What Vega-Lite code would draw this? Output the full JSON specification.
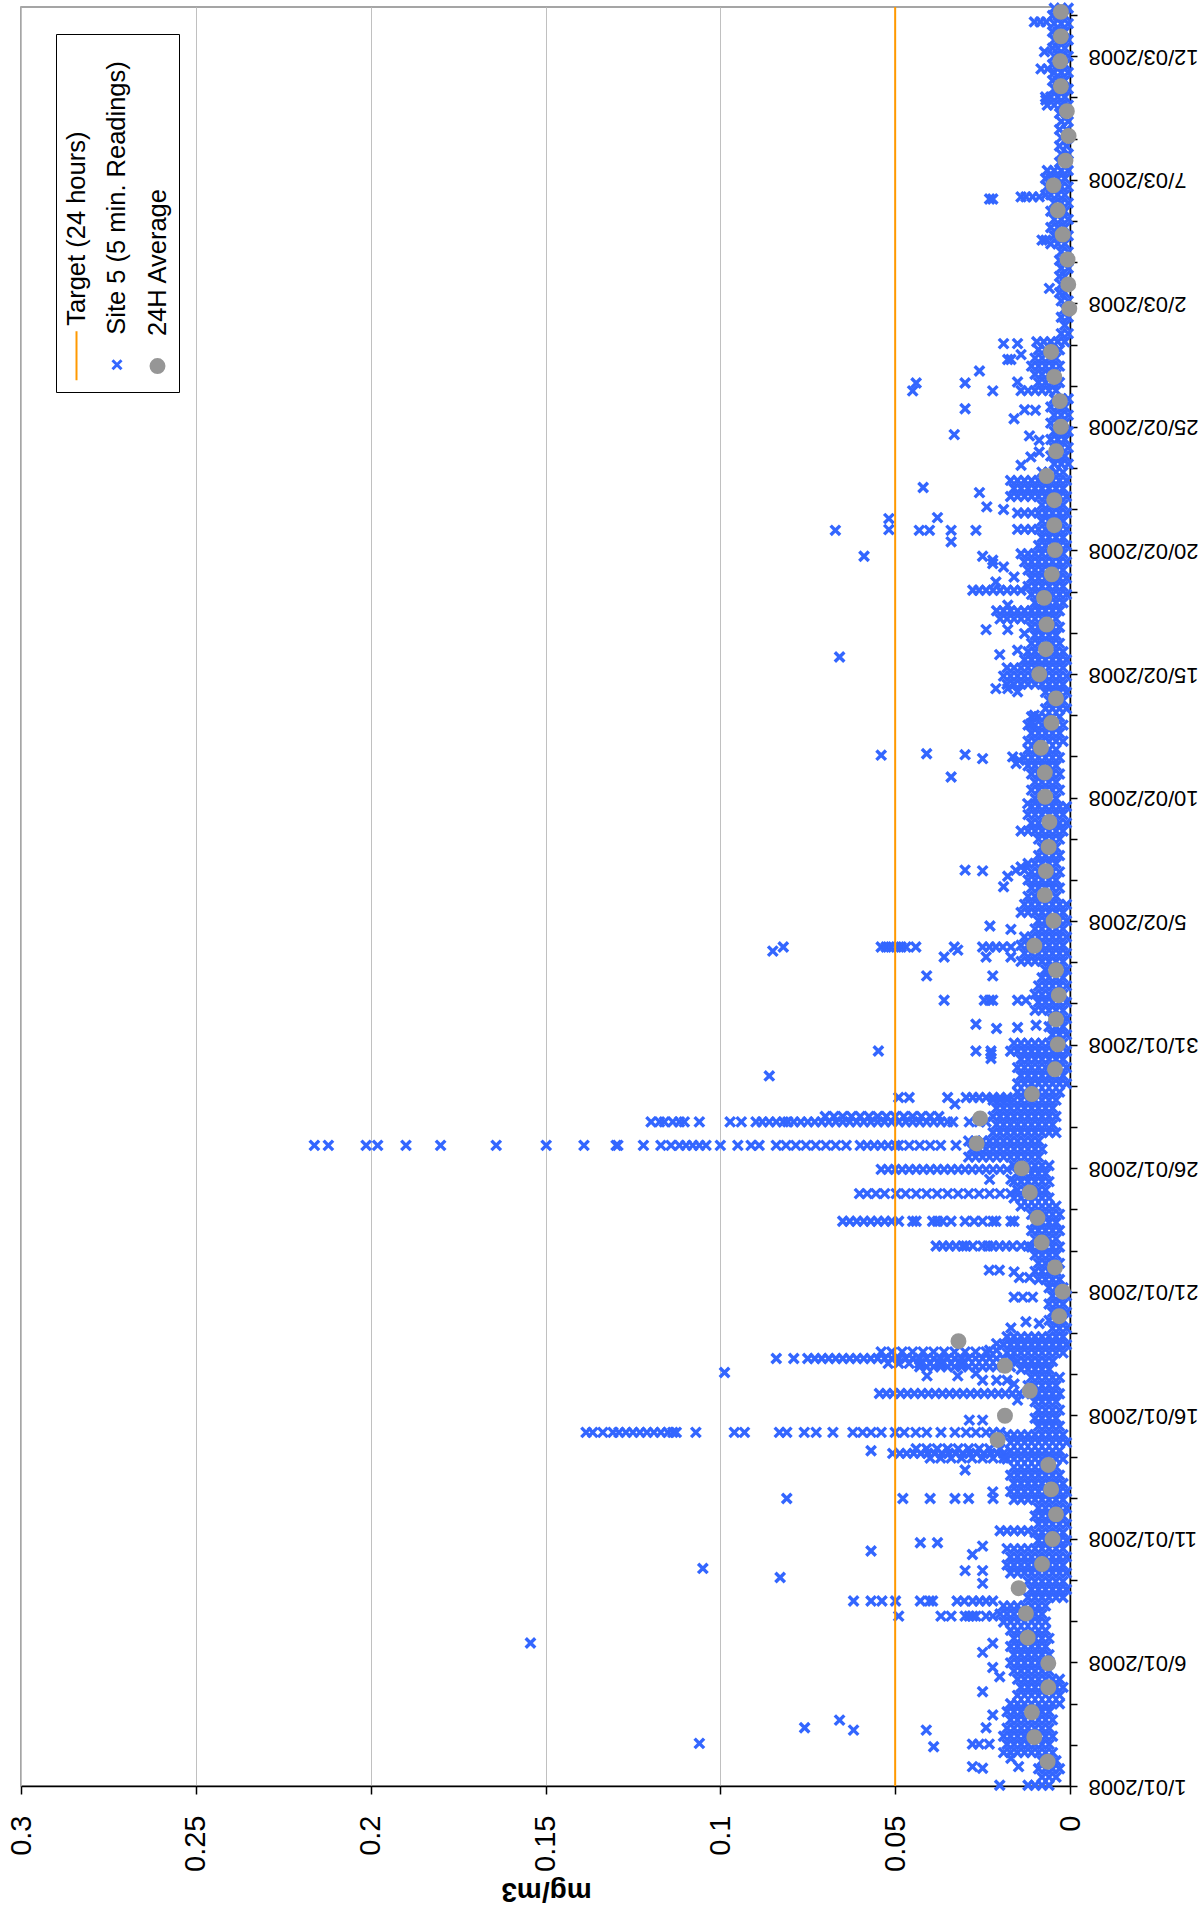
{
"$schema":"https://vega.github.io/schema/vega-lite/v6.json",
"width":1049,"height":1779,
"autosize":{"type":"none"},
"padding":{"left":21,"top":7,"right":133,"bottom":126},
"background":"white",
"config":{"font":"Liberation Sans","view":{"stroke":"#888888","strokeWidth":1.5}},
"datasets":{
"daily":[
{"day":1.41,"mg":0.0064},{"day":2.41,"mg":0.0102},{"day":3.43,"mg":0.0109},{"day":4.45,"mg":0.0062},{"day":5.43,"mg":0.0062},{"day":6.48,"mg":0.0121},{"day":7.47,"mg":0.0126},{"day":8.5,"mg":0.0147},{"day":9.49,"mg":0.008},{"day":10.51,"mg":0.005},{"day":11.52,"mg":0.004},{"day":12.54,"mg":0.0054},{"day":13.54,"mg":0.0062},{"day":14.56,"mg":0.0207},{"day":15.55,"mg":0.0186},{"day":16.57,"mg":0.0115},{"day":17.59,"mg":0.0186},{"day":18.6,"mg":0.0319},{"day":19.62,"mg":0.0031},{"day":20.62,"mg":0.0021},{"day":21.61,"mg":0.0043},{"day":22.63,"mg":0.0081},{"day":23.64,"mg":0.0093},{"day":24.68,"mg":0.0115},{"day":25.66,"mg":0.0138},{"day":26.68,"mg":0.0267},{"day":27.7,"mg":0.0257},{"day":28.7,"mg":0.0109},{"day":29.71,"mg":0.0043},{"day":30.73,"mg":0.0035},{"day":31.75,"mg":0.004},{"day":32.74,"mg":0.0032},{"day":33.76,"mg":0.004},{"day":34.76,"mg":0.0102},{"day":35.78,"mg":0.0047},{"day":36.83,"mg":0.0072},{"day":37.81,"mg":0.0069},{"day":38.8,"mg":0.0061},{"day":39.82,"mg":0.0059},{"day":40.85,"mg":0.0071},{"day":41.84,"mg":0.0072},{"day":42.85,"mg":0.0083},{"day":43.87,"mg":0.0053},{"day":44.87,"mg":0.004},{"day":45.86,"mg":0.0088},{"day":46.88,"mg":0.0069},{"day":47.89,"mg":0.0067},{"day":48.98,"mg":0.0074},{"day":49.94,"mg":0.0052},{"day":50.93,"mg":0.0043},{"day":51.95,"mg":0.0045},{"day":52.97,"mg":0.0045},{"day":53.96,"mg":0.0067},{"day":54.97,"mg":0.004},{"day":55.97,"mg":0.0026},{"day":57.02,"mg":0.0029},{"day":58.01,"mg":0.0045},{"day":59.03,"mg":0.0054},{"day":60.8,"mg":0.0002},{"day":61.79,"mg":0.0005},{"day":62.81,"mg":0.0007},{"day":63.83,"mg":0.0021},{"day":64.82,"mg":0.0035},{"day":65.84,"mg":0.0047},{"day":66.85,"mg":0.0013},{"day":67.86,"mg":0.0004},{"day":68.87,"mg":0.0009},{"day":69.89,"mg":0.0026},{"day":70.91,"mg":0.0028},{"day":71.93,"mg":0.0026},{"day":72.93,"mg":0.0026}
],
"readings":[
{"day":0.45,"mg":0.006},{"day":0.45,"mg":0.008},{"day":0.45,"mg":0.01},{"day":0.45,"mg":0.012},
{"day":0.78,"mg":0.004},{"day":0.78,"mg":0.006},{"day":0.78,"mg":0.008},
{"day":1.12,"mg":0.003},{"day":1.12,"mg":0.005},{"day":1.12,"mg":0.007},{"day":1.12,"mg":0.009},
{"day":1.45,"mg":0.004},{"day":1.45,"mg":0.006},{"day":1.45,"mg":0.008},
{"day":1.78,"mg":0.005},{"day":1.78,"mg":0.007},{"day":1.78,"mg":0.009},{"day":1.78,"mg":0.011},{"day":1.78,"mg":0.013},{"day":1.78,"mg":0.015},{"day":1.78,"mg":0.017},{"day":1.78,"mg":0.019},
{"day":2.12,"mg":0.006},{"day":2.12,"mg":0.008},{"day":2.12,"mg":0.01},{"day":2.12,"mg":0.012},{"day":2.12,"mg":0.014},{"day":2.12,"mg":0.016},{"day":2.12,"mg":0.018},
{"day":2.45,"mg":0.005},{"day":2.45,"mg":0.007},{"day":2.45,"mg":0.009},{"day":2.45,"mg":0.011},{"day":2.45,"mg":0.013},{"day":2.45,"mg":0.015},{"day":2.45,"mg":0.017},{"day":2.45,"mg":0.019},
{"day":2.78,"mg":0.006},{"day":2.78,"mg":0.008},{"day":2.78,"mg":0.01},{"day":2.78,"mg":0.012},{"day":2.78,"mg":0.014},{"day":2.78,"mg":0.016},{"day":2.78,"mg":0.018},
{"day":3.12,"mg":0.005},{"day":3.12,"mg":0.007},{"day":3.12,"mg":0.009},{"day":3.12,"mg":0.011},{"day":3.12,"mg":0.013},{"day":3.12,"mg":0.015},{"day":3.12,"mg":0.017},
{"day":3.45,"mg":0.006},{"day":3.45,"mg":0.008},{"day":3.45,"mg":0.01},{"day":3.45,"mg":0.012},{"day":3.45,"mg":0.014},{"day":3.45,"mg":0.016},{"day":3.45,"mg":0.018},
{"day":3.78,"mg":0.003},{"day":3.78,"mg":0.005},{"day":3.78,"mg":0.007},{"day":3.78,"mg":0.009},{"day":3.78,"mg":0.011},{"day":3.78,"mg":0.013},{"day":3.78,"mg":0.015},{"day":3.78,"mg":0.017},
{"day":4.12,"mg":0.003},{"day":4.12,"mg":0.005},{"day":4.12,"mg":0.007},{"day":4.12,"mg":0.009},{"day":4.12,"mg":0.011},{"day":4.12,"mg":0.013},{"day":4.12,"mg":0.015},
{"day":4.45,"mg":0.002},{"day":4.45,"mg":0.004},{"day":4.45,"mg":0.006},{"day":4.45,"mg":0.008},{"day":4.45,"mg":0.01},{"day":4.45,"mg":0.012},{"day":4.45,"mg":0.014},
{"day":4.78,"mg":0.003},{"day":4.78,"mg":0.005},{"day":4.78,"mg":0.007},{"day":4.78,"mg":0.009},{"day":4.78,"mg":0.011},{"day":4.78,"mg":0.013},{"day":4.78,"mg":0.015},
{"day":5.12,"mg":0.006},{"day":5.12,"mg":0.008},{"day":5.12,"mg":0.01},{"day":5.12,"mg":0.012},{"day":5.12,"mg":0.014},{"day":5.12,"mg":0.016},
{"day":5.45,"mg":0.007},{"day":5.45,"mg":0.009},{"day":5.45,"mg":0.011},{"day":5.45,"mg":0.013},{"day":5.45,"mg":0.015},{"day":5.45,"mg":0.017},
{"day":5.78,"mg":0.006},{"day":5.78,"mg":0.008},{"day":5.78,"mg":0.01},{"day":5.78,"mg":0.012},{"day":5.78,"mg":0.014},{"day":5.78,"mg":0.016},
{"day":6.12,"mg":0.007},{"day":6.12,"mg":0.009},{"day":6.12,"mg":0.011},{"day":6.12,"mg":0.013},{"day":6.12,"mg":0.015},{"day":6.12,"mg":0.017},
{"day":6.45,"mg":0.006},{"day":6.45,"mg":0.008},{"day":6.45,"mg":0.01},{"day":6.45,"mg":0.012},{"day":6.45,"mg":0.014},{"day":6.45,"mg":0.016},
{"day":6.78,"mg":0.007},{"day":6.78,"mg":0.009},{"day":6.78,"mg":0.011},{"day":6.78,"mg":0.013},{"day":6.78,"mg":0.015},{"day":6.78,"mg":0.017},
{"day":7.12,"mg":0.007},{"day":7.12,"mg":0.009},{"day":7.12,"mg":0.011},{"day":7.12,"mg":0.013},{"day":7.12,"mg":0.015},{"day":7.12,"mg":0.017},{"day":7.12,"mg":0.019},
{"day":7.45,"mg":0.008},{"day":7.45,"mg":0.01},{"day":7.45,"mg":0.012},{"day":7.45,"mg":0.014},{"day":7.45,"mg":0.016},{"day":7.45,"mg":0.018},{"day":7.45,"mg":0.02},
{"day":7.78,"mg":0.007},{"day":7.78,"mg":0.009},{"day":7.78,"mg":0.011},{"day":7.78,"mg":0.013},{"day":7.78,"mg":0.015},{"day":7.78,"mg":0.017},{"day":7.78,"mg":0.019},
{"day":8.12,"mg":0.002},{"day":8.12,"mg":0.004},{"day":8.12,"mg":0.006},{"day":8.12,"mg":0.008},{"day":8.12,"mg":0.01},{"day":8.12,"mg":0.012},
{"day":8.45,"mg":0.001},{"day":8.45,"mg":0.003},{"day":8.45,"mg":0.005},{"day":8.45,"mg":0.007},{"day":8.45,"mg":0.009},{"day":8.45,"mg":0.011},
{"day":8.78,"mg":0.002},{"day":8.78,"mg":0.004},{"day":8.78,"mg":0.006},{"day":8.78,"mg":0.008},{"day":8.78,"mg":0.01},{"day":8.78,"mg":0.012},
{"day":9.12,"mg":0.001},{"day":9.12,"mg":0.003},{"day":9.12,"mg":0.005},{"day":9.12,"mg":0.007},{"day":9.12,"mg":0.009},{"day":9.12,"mg":0.011},{"day":9.12,"mg":0.013},{"day":9.12,"mg":0.015},{"day":9.12,"mg":0.017},
{"day":9.45,"mg":0.002},{"day":9.45,"mg":0.004},{"day":9.45,"mg":0.006},{"day":9.45,"mg":0.008},{"day":9.45,"mg":0.01},{"day":9.45,"mg":0.012},{"day":9.45,"mg":0.014},{"day":9.45,"mg":0.016},{"day":9.45,"mg":0.018},
{"day":9.78,"mg":0.001},{"day":9.78,"mg":0.003},{"day":9.78,"mg":0.005},{"day":9.78,"mg":0.007},{"day":9.78,"mg":0.009},{"day":9.78,"mg":0.011},{"day":9.78,"mg":0.013},{"day":9.78,"mg":0.015},{"day":9.78,"mg":0.017},
{"day":10.12,"mg":0.002},{"day":10.12,"mg":0.004},{"day":10.12,"mg":0.006},{"day":10.12,"mg":0.008},{"day":10.12,"mg":0.01},{"day":10.12,"mg":0.012},{"day":10.12,"mg":0.014},{"day":10.12,"mg":0.016},{"day":10.12,"mg":0.018},
{"day":10.45,"mg":0.001},{"day":10.45,"mg":0.003},{"day":10.45,"mg":0.005},{"day":10.45,"mg":0.007},{"day":10.45,"mg":0.009},
{"day":10.78,"mg":0.002},{"day":10.78,"mg":0.004},{"day":10.78,"mg":0.006},{"day":10.78,"mg":0.008},{"day":10.78,"mg":0.01},
{"day":11.12,"mg":0.001},{"day":11.12,"mg":0.003},{"day":11.12,"mg":0.005},{"day":11.12,"mg":0.007},{"day":11.12,"mg":0.009},
{"day":11.45,"mg":0.002},{"day":11.45,"mg":0.004},{"day":11.45,"mg":0.006},{"day":11.45,"mg":0.008},{"day":11.45,"mg":0.01},
{"day":11.78,"mg":0.001},{"day":11.78,"mg":0.003},{"day":11.78,"mg":0.005},{"day":11.78,"mg":0.007},{"day":11.78,"mg":0.009},
{"day":12.12,"mg":0.002},{"day":12.12,"mg":0.004},{"day":12.12,"mg":0.006},{"day":12.12,"mg":0.008},{"day":12.12,"mg":0.01},{"day":12.12,"mg":0.012},{"day":12.12,"mg":0.014},{"day":12.12,"mg":0.016},
{"day":12.45,"mg":0.001},{"day":12.45,"mg":0.003},{"day":12.45,"mg":0.005},{"day":12.45,"mg":0.007},{"day":12.45,"mg":0.009},{"day":12.45,"mg":0.011},{"day":12.45,"mg":0.013},{"day":12.45,"mg":0.015},{"day":12.45,"mg":0.017},
{"day":12.78,"mg":0.002},{"day":12.78,"mg":0.004},{"day":12.78,"mg":0.006},{"day":12.78,"mg":0.008},{"day":12.78,"mg":0.01},{"day":12.78,"mg":0.012},{"day":12.78,"mg":0.014},{"day":12.78,"mg":0.016},
{"day":13.12,"mg":0.003},{"day":13.12,"mg":0.005},{"day":13.12,"mg":0.007},{"day":13.12,"mg":0.009},{"day":13.12,"mg":0.011},{"day":13.12,"mg":0.013},{"day":13.12,"mg":0.015},{"day":13.12,"mg":0.017},
{"day":13.45,"mg":0.004},{"day":13.45,"mg":0.006},{"day":13.45,"mg":0.008},{"day":13.45,"mg":0.01},{"day":13.45,"mg":0.012},{"day":13.45,"mg":0.014},{"day":13.45,"mg":0.016},
{"day":13.78,"mg":0.002},{"day":13.78,"mg":0.004},{"day":13.78,"mg":0.006},{"day":13.78,"mg":0.008},{"day":13.78,"mg":0.01},{"day":13.78,"mg":0.012},{"day":13.78,"mg":0.014},{"day":13.78,"mg":0.016},{"day":13.78,"mg":0.018},
{"day":14.12,"mg":0.003},{"day":14.12,"mg":0.005},{"day":14.12,"mg":0.007},{"day":14.12,"mg":0.009},{"day":14.12,"mg":0.011},{"day":14.12,"mg":0.013},{"day":14.12,"mg":0.015},{"day":14.12,"mg":0.017},
{"day":14.45,"mg":0.001},{"day":14.45,"mg":0.003},{"day":14.45,"mg":0.005},{"day":14.45,"mg":0.007},{"day":14.45,"mg":0.009},{"day":14.45,"mg":0.011},{"day":14.45,"mg":0.013},{"day":14.45,"mg":0.015},{"day":14.45,"mg":0.017},
{"day":14.78,"mg":0.002},{"day":14.78,"mg":0.004},{"day":14.78,"mg":0.006},{"day":14.78,"mg":0.008},{"day":14.78,"mg":0.01},{"day":14.78,"mg":0.012},{"day":14.78,"mg":0.014},{"day":14.78,"mg":0.016},{"day":14.78,"mg":0.018},
{"day":15.12,"mg":0.003},{"day":15.12,"mg":0.005},{"day":15.12,"mg":0.007},{"day":15.12,"mg":0.009},
{"day":15.45,"mg":0.004},{"day":15.45,"mg":0.006},{"day":15.45,"mg":0.008},{"day":15.45,"mg":0.01},
{"day":15.78,"mg":0.003},{"day":15.78,"mg":0.005},{"day":15.78,"mg":0.007},{"day":15.78,"mg":0.009},
{"day":16.12,"mg":0.004},{"day":16.12,"mg":0.006},{"day":16.12,"mg":0.008},{"day":16.12,"mg":0.01},
{"day":16.45,"mg":0.003},{"day":16.45,"mg":0.005},{"day":16.45,"mg":0.007},{"day":16.45,"mg":0.009},{"day":16.45,"mg":0.011},
{"day":16.78,"mg":0.004},{"day":16.78,"mg":0.006},{"day":16.78,"mg":0.008},{"day":16.78,"mg":0.01},{"day":16.78,"mg":0.012},
{"day":17.12,"mg":0.003},{"day":17.12,"mg":0.005},{"day":17.12,"mg":0.007},{"day":17.12,"mg":0.009},{"day":17.12,"mg":0.011},
{"day":17.45,"mg":0.006},{"day":17.45,"mg":0.008},{"day":17.45,"mg":0.01},{"day":17.45,"mg":0.012},{"day":17.45,"mg":0.014},
{"day":17.78,"mg":0.005},{"day":17.78,"mg":0.007},{"day":17.78,"mg":0.009},{"day":17.78,"mg":0.011},{"day":17.78,"mg":0.013},{"day":17.78,"mg":0.015},
{"day":18.12,"mg":0.002},{"day":18.12,"mg":0.004},{"day":18.12,"mg":0.006},{"day":18.12,"mg":0.008},{"day":18.12,"mg":0.01},{"day":18.12,"mg":0.012},{"day":18.12,"mg":0.014},{"day":18.12,"mg":0.016},{"day":18.12,"mg":0.018},
{"day":18.45,"mg":0.001},{"day":18.45,"mg":0.003},{"day":18.45,"mg":0.005},{"day":18.45,"mg":0.007},{"day":18.45,"mg":0.009},{"day":18.45,"mg":0.011},{"day":18.45,"mg":0.013},{"day":18.45,"mg":0.015},{"day":18.45,"mg":0.017},{"day":18.45,"mg":0.019},
{"day":18.78,"mg":0.002},{"day":18.78,"mg":0.004},{"day":18.78,"mg":0.006},{"day":18.78,"mg":0.008},{"day":18.78,"mg":0.01},{"day":18.78,"mg":0.012},{"day":18.78,"mg":0.014},{"day":18.78,"mg":0.016},{"day":18.78,"mg":0.018},
{"day":19.12,"mg":0.001},{"day":19.12,"mg":0.003},{"day":19.12,"mg":0.005},
{"day":19.45,"mg":0.002},{"day":19.45,"mg":0.004},{"day":19.45,"mg":0.006},
{"day":19.78,"mg":0.001},{"day":19.78,"mg":0.003},{"day":19.78,"mg":0.005},
{"day":20.12,"mg":0.002},{"day":20.12,"mg":0.004},{"day":20.12,"mg":0.006},
{"day":20.45,"mg":0.001},{"day":20.45,"mg":0.003},{"day":20.45,"mg":0.005},
{"day":20.78,"mg":0.002},{"day":20.78,"mg":0.004},{"day":20.78,"mg":0.006},
{"day":21.12,"mg":0.003},{"day":21.12,"mg":0.005},{"day":21.12,"mg":0.007},{"day":21.12,"mg":0.009},
{"day":21.45,"mg":0.004},{"day":21.45,"mg":0.006},{"day":21.45,"mg":0.008},{"day":21.45,"mg":0.01},
{"day":21.78,"mg":0.003},{"day":21.78,"mg":0.005},{"day":21.78,"mg":0.007},{"day":21.78,"mg":0.009},
{"day":22.12,"mg":0.004},{"day":22.12,"mg":0.006},{"day":22.12,"mg":0.008},{"day":22.12,"mg":0.01},
{"day":22.45,"mg":0.003},{"day":22.45,"mg":0.005},{"day":22.45,"mg":0.007},{"day":22.45,"mg":0.009},{"day":22.45,"mg":0.011},
{"day":22.78,"mg":0.004},{"day":22.78,"mg":0.006},{"day":22.78,"mg":0.008},{"day":22.78,"mg":0.01},
{"day":23.12,"mg":0.003},{"day":23.12,"mg":0.005},{"day":23.12,"mg":0.007},{"day":23.12,"mg":0.009},{"day":23.12,"mg":0.011},
{"day":23.45,"mg":0.004},{"day":23.45,"mg":0.006},{"day":23.45,"mg":0.008},{"day":23.45,"mg":0.01},
{"day":23.78,"mg":0.003},{"day":23.78,"mg":0.005},{"day":23.78,"mg":0.007},{"day":23.78,"mg":0.009},{"day":23.78,"mg":0.011},
{"day":24.12,"mg":0.004},{"day":24.12,"mg":0.006},{"day":24.12,"mg":0.008},{"day":24.12,"mg":0.01},{"day":24.12,"mg":0.012},{"day":24.12,"mg":0.014},
{"day":24.45,"mg":0.006},{"day":24.45,"mg":0.008},{"day":24.45,"mg":0.01},{"day":24.45,"mg":0.012},{"day":24.45,"mg":0.014},{"day":24.45,"mg":0.016},
{"day":24.78,"mg":0.007},{"day":24.78,"mg":0.009},{"day":24.78,"mg":0.011},{"day":24.78,"mg":0.013},{"day":24.78,"mg":0.015},
{"day":25.12,"mg":0.006},{"day":25.12,"mg":0.008},{"day":25.12,"mg":0.01},{"day":25.12,"mg":0.012},{"day":25.12,"mg":0.014},{"day":25.12,"mg":0.016},
{"day":25.45,"mg":0.007},{"day":25.45,"mg":0.009},{"day":25.45,"mg":0.011},{"day":25.45,"mg":0.013},{"day":25.45,"mg":0.015},
{"day":25.78,"mg":0.006},{"day":25.78,"mg":0.008},{"day":25.78,"mg":0.01},{"day":25.78,"mg":0.012},{"day":25.78,"mg":0.014},{"day":25.78,"mg":0.016},
{"day":26.12,"mg":0.009},{"day":26.12,"mg":0.011},{"day":26.12,"mg":0.013},{"day":26.12,"mg":0.015},{"day":26.12,"mg":0.017},{"day":26.12,"mg":0.019},{"day":26.12,"mg":0.021},{"day":26.12,"mg":0.023},{"day":26.12,"mg":0.025},{"day":26.12,"mg":0.027},{"day":26.12,"mg":0.029},
{"day":26.45,"mg":0.008},{"day":26.45,"mg":0.01},{"day":26.45,"mg":0.012},{"day":26.45,"mg":0.014},{"day":26.45,"mg":0.016},{"day":26.45,"mg":0.018},{"day":26.45,"mg":0.02},{"day":26.45,"mg":0.022},{"day":26.45,"mg":0.024},{"day":26.45,"mg":0.026},{"day":26.45,"mg":0.028},
{"day":26.78,"mg":0.009},{"day":26.78,"mg":0.011},{"day":26.78,"mg":0.013},{"day":26.78,"mg":0.015},{"day":26.78,"mg":0.017},{"day":26.78,"mg":0.019},{"day":26.78,"mg":0.021},{"day":26.78,"mg":0.023},{"day":26.78,"mg":0.025},{"day":26.78,"mg":0.027},{"day":26.78,"mg":0.029},
{"day":27.12,"mg":0.004},{"day":27.12,"mg":0.006},{"day":27.12,"mg":0.008},{"day":27.12,"mg":0.01},{"day":27.12,"mg":0.012},{"day":27.12,"mg":0.014},{"day":27.12,"mg":0.016},{"day":27.12,"mg":0.018},{"day":27.12,"mg":0.02},{"day":27.12,"mg":0.022},
{"day":27.45,"mg":0.005},{"day":27.45,"mg":0.007},{"day":27.45,"mg":0.009},{"day":27.45,"mg":0.011},{"day":27.45,"mg":0.013},{"day":27.45,"mg":0.015},{"day":27.45,"mg":0.017},{"day":27.45,"mg":0.019},{"day":27.45,"mg":0.021},
{"day":27.78,"mg":0.004},{"day":27.78,"mg":0.006},{"day":27.78,"mg":0.008},{"day":27.78,"mg":0.01},{"day":27.78,"mg":0.012},{"day":27.78,"mg":0.014},{"day":27.78,"mg":0.016},{"day":27.78,"mg":0.018},{"day":27.78,"mg":0.02},{"day":27.78,"mg":0.022},
{"day":28.12,"mg":0.005},{"day":28.12,"mg":0.007},{"day":28.12,"mg":0.009},{"day":28.12,"mg":0.011},{"day":28.12,"mg":0.013},{"day":28.12,"mg":0.015},{"day":28.12,"mg":0.017},{"day":28.12,"mg":0.019},{"day":28.12,"mg":0.021},
{"day":28.45,"mg":0.004},{"day":28.45,"mg":0.006},{"day":28.45,"mg":0.008},{"day":28.45,"mg":0.01},{"day":28.45,"mg":0.012},{"day":28.45,"mg":0.014},{"day":28.45,"mg":0.016},{"day":28.45,"mg":0.018},{"day":28.45,"mg":0.02},{"day":28.45,"mg":0.022},
{"day":28.78,"mg":0.003},{"day":28.78,"mg":0.005},{"day":28.78,"mg":0.007},{"day":28.78,"mg":0.009},{"day":28.78,"mg":0.011},{"day":28.78,"mg":0.013},{"day":28.78,"mg":0.015},
{"day":29.12,"mg":0.001},{"day":29.12,"mg":0.003},{"day":29.12,"mg":0.005},{"day":29.12,"mg":0.007},{"day":29.12,"mg":0.009},{"day":29.12,"mg":0.011},{"day":29.12,"mg":0.013},{"day":29.12,"mg":0.015},
{"day":29.45,"mg":0.002},{"day":29.45,"mg":0.004},{"day":29.45,"mg":0.006},{"day":29.45,"mg":0.008},{"day":29.45,"mg":0.01},{"day":29.45,"mg":0.012},{"day":29.45,"mg":0.014},
{"day":29.78,"mg":0.001},{"day":29.78,"mg":0.003},{"day":29.78,"mg":0.005},{"day":29.78,"mg":0.007},{"day":29.78,"mg":0.009},{"day":29.78,"mg":0.011},{"day":29.78,"mg":0.013},{"day":29.78,"mg":0.015},
{"day":30.12,"mg":0.002},{"day":30.12,"mg":0.004},{"day":30.12,"mg":0.006},{"day":30.12,"mg":0.008},{"day":30.12,"mg":0.01},{"day":30.12,"mg":0.012},{"day":30.12,"mg":0.014},
{"day":30.45,"mg":0.001},{"day":30.45,"mg":0.003},{"day":30.45,"mg":0.005},{"day":30.45,"mg":0.007},{"day":30.45,"mg":0.009},{"day":30.45,"mg":0.011},{"day":30.45,"mg":0.013},{"day":30.45,"mg":0.015},{"day":30.45,"mg":0.017},
{"day":30.78,"mg":0.002},{"day":30.78,"mg":0.004},{"day":30.78,"mg":0.006},{"day":30.78,"mg":0.008},{"day":30.78,"mg":0.01},{"day":30.78,"mg":0.012},{"day":30.78,"mg":0.014},{"day":30.78,"mg":0.016},
{"day":31.12,"mg":0.001},{"day":31.12,"mg":0.003},{"day":31.12,"mg":0.005},
{"day":31.45,"mg":0.002},{"day":31.45,"mg":0.004},{"day":31.45,"mg":0.006},
{"day":31.78,"mg":0.001},{"day":31.78,"mg":0.003},{"day":31.78,"mg":0.005},
{"day":32.12,"mg":0.002},{"day":32.12,"mg":0.004},{"day":32.12,"mg":0.006},{"day":32.12,"mg":0.008},{"day":32.12,"mg":0.01},
{"day":32.45,"mg":0.001},{"day":32.45,"mg":0.003},{"day":32.45,"mg":0.005},{"day":32.45,"mg":0.007},{"day":32.45,"mg":0.009},
{"day":32.78,"mg":0.002},{"day":32.78,"mg":0.004},{"day":32.78,"mg":0.006},{"day":32.78,"mg":0.008},{"day":32.78,"mg":0.01},
{"day":33.12,"mg":0.001},{"day":33.12,"mg":0.003},{"day":33.12,"mg":0.005},{"day":33.12,"mg":0.007},{"day":33.12,"mg":0.009},
{"day":33.45,"mg":0.002},{"day":33.45,"mg":0.004},{"day":33.45,"mg":0.006},{"day":33.45,"mg":0.008},
{"day":33.78,"mg":0.001},{"day":33.78,"mg":0.003},{"day":33.78,"mg":0.005},{"day":33.78,"mg":0.007},
{"day":34.12,"mg":0.002},{"day":34.12,"mg":0.004},{"day":34.12,"mg":0.006},{"day":34.12,"mg":0.008},{"day":34.12,"mg":0.01},{"day":34.12,"mg":0.012},{"day":34.12,"mg":0.014},
{"day":34.45,"mg":0.001},{"day":34.45,"mg":0.003},{"day":34.45,"mg":0.005},{"day":34.45,"mg":0.007},{"day":34.45,"mg":0.009},{"day":34.45,"mg":0.011},{"day":34.45,"mg":0.013},
{"day":34.78,"mg":0.002},{"day":34.78,"mg":0.004},{"day":34.78,"mg":0.006},{"day":34.78,"mg":0.008},{"day":34.78,"mg":0.01},{"day":34.78,"mg":0.012},{"day":34.78,"mg":0.014},
{"day":35.12,"mg":0.001},{"day":35.12,"mg":0.003},{"day":35.12,"mg":0.005},{"day":35.12,"mg":0.007},{"day":35.12,"mg":0.009},{"day":35.12,"mg":0.011},{"day":35.12,"mg":0.013},
{"day":35.45,"mg":0.002},{"day":35.45,"mg":0.004},{"day":35.45,"mg":0.006},{"day":35.45,"mg":0.008},{"day":35.45,"mg":0.01},
{"day":35.78,"mg":0.001},{"day":35.78,"mg":0.003},{"day":35.78,"mg":0.005},{"day":35.78,"mg":0.007},{"day":35.78,"mg":0.009},
{"day":36.12,"mg":0.002},{"day":36.12,"mg":0.004},{"day":36.12,"mg":0.006},{"day":36.12,"mg":0.008},{"day":36.12,"mg":0.01},{"day":36.12,"mg":0.012},{"day":36.12,"mg":0.014},
{"day":36.45,"mg":0.001},{"day":36.45,"mg":0.003},{"day":36.45,"mg":0.005},{"day":36.45,"mg":0.007},{"day":36.45,"mg":0.009},{"day":36.45,"mg":0.011},{"day":36.45,"mg":0.013},
{"day":36.78,"mg":0.004},{"day":36.78,"mg":0.006},{"day":36.78,"mg":0.008},{"day":36.78,"mg":0.01},{"day":36.78,"mg":0.012},
{"day":37.12,"mg":0.003},{"day":37.12,"mg":0.005},{"day":37.12,"mg":0.007},{"day":37.12,"mg":0.009},{"day":37.12,"mg":0.011},
{"day":37.45,"mg":0.004},{"day":37.45,"mg":0.006},{"day":37.45,"mg":0.008},{"day":37.45,"mg":0.01},{"day":37.45,"mg":0.012},
{"day":37.78,"mg":0.003},{"day":37.78,"mg":0.005},{"day":37.78,"mg":0.007},{"day":37.78,"mg":0.009},{"day":37.78,"mg":0.011},
{"day":38.12,"mg":0.004},{"day":38.12,"mg":0.006},{"day":38.12,"mg":0.008},{"day":38.12,"mg":0.01},{"day":38.12,"mg":0.012},
{"day":38.45,"mg":0.003},{"day":38.45,"mg":0.005},{"day":38.45,"mg":0.007},{"day":38.45,"mg":0.009},
{"day":38.78,"mg":0.004},{"day":38.78,"mg":0.006},{"day":38.78,"mg":0.008},
{"day":39.12,"mg":0.003},{"day":39.12,"mg":0.005},{"day":39.12,"mg":0.007},{"day":39.12,"mg":0.009},
{"day":39.45,"mg":0.002},{"day":39.45,"mg":0.004},{"day":39.45,"mg":0.006},{"day":39.45,"mg":0.008},{"day":39.45,"mg":0.01},{"day":39.45,"mg":0.012},{"day":39.45,"mg":0.014},
{"day":39.78,"mg":0.001},{"day":39.78,"mg":0.003},{"day":39.78,"mg":0.005},{"day":39.78,"mg":0.007},{"day":39.78,"mg":0.009},{"day":39.78,"mg":0.011},
{"day":40.12,"mg":0.002},{"day":40.12,"mg":0.004},{"day":40.12,"mg":0.006},{"day":40.12,"mg":0.008},{"day":40.12,"mg":0.01},{"day":40.12,"mg":0.012},
{"day":40.45,"mg":0.001},{"day":40.45,"mg":0.003},{"day":40.45,"mg":0.005},{"day":40.45,"mg":0.007},{"day":40.45,"mg":0.009},{"day":40.45,"mg":0.011},
{"day":40.78,"mg":0.004},{"day":40.78,"mg":0.006},{"day":40.78,"mg":0.008},{"day":40.78,"mg":0.01},
{"day":41.12,"mg":0.003},{"day":41.12,"mg":0.005},{"day":41.12,"mg":0.007},{"day":41.12,"mg":0.009},{"day":41.12,"mg":0.011},
{"day":41.45,"mg":0.004},{"day":41.45,"mg":0.006},{"day":41.45,"mg":0.008},{"day":41.45,"mg":0.01},
{"day":41.78,"mg":0.003},{"day":41.78,"mg":0.005},{"day":41.78,"mg":0.007},{"day":41.78,"mg":0.009},{"day":41.78,"mg":0.011},
{"day":42.12,"mg":0.004},{"day":42.12,"mg":0.006},{"day":42.12,"mg":0.008},{"day":42.12,"mg":0.01},{"day":42.12,"mg":0.012},
{"day":42.45,"mg":0.003},{"day":42.45,"mg":0.005},{"day":42.45,"mg":0.007},{"day":42.45,"mg":0.009},{"day":42.45,"mg":0.011},{"day":42.45,"mg":0.013},
{"day":42.78,"mg":0.004},{"day":42.78,"mg":0.006},{"day":42.78,"mg":0.008},{"day":42.78,"mg":0.01},{"day":42.78,"mg":0.012},
{"day":43.12,"mg":0.002},{"day":43.12,"mg":0.004},{"day":43.12,"mg":0.006},{"day":43.12,"mg":0.008},{"day":43.12,"mg":0.01},{"day":43.12,"mg":0.012},
{"day":43.45,"mg":0.003},{"day":43.45,"mg":0.005},{"day":43.45,"mg":0.007},{"day":43.45,"mg":0.009},{"day":43.45,"mg":0.011},
{"day":43.78,"mg":0.002},{"day":43.78,"mg":0.004},{"day":43.78,"mg":0.006},{"day":43.78,"mg":0.008},{"day":43.78,"mg":0.01},{"day":43.78,"mg":0.012},
{"day":44.12,"mg":0.003},{"day":44.12,"mg":0.005},{"day":44.12,"mg":0.007},{"day":44.12,"mg":0.009},{"day":44.12,"mg":0.011},
{"day":44.45,"mg":0.001},{"day":44.45,"mg":0.003},{"day":44.45,"mg":0.005},{"day":44.45,"mg":0.007},
{"day":44.78,"mg":0.002},{"day":44.78,"mg":0.004},{"day":44.78,"mg":0.006},
{"day":45.12,"mg":0.001},{"day":45.12,"mg":0.003},{"day":45.12,"mg":0.005},{"day":45.12,"mg":0.007},
{"day":45.45,"mg":0.002},{"day":45.45,"mg":0.004},{"day":45.45,"mg":0.006},{"day":45.45,"mg":0.008},{"day":45.45,"mg":0.01},{"day":45.45,"mg":0.012},{"day":45.45,"mg":0.014},{"day":45.45,"mg":0.016},{"day":45.45,"mg":0.018},
{"day":45.78,"mg":0.001},{"day":45.78,"mg":0.003},{"day":45.78,"mg":0.005},{"day":45.78,"mg":0.007},{"day":45.78,"mg":0.009},{"day":45.78,"mg":0.011},{"day":45.78,"mg":0.013},{"day":45.78,"mg":0.015},{"day":45.78,"mg":0.017},{"day":45.78,"mg":0.019},
{"day":46.12,"mg":0.002},{"day":46.12,"mg":0.004},{"day":46.12,"mg":0.006},{"day":46.12,"mg":0.008},{"day":46.12,"mg":0.01},{"day":46.12,"mg":0.012},{"day":46.12,"mg":0.014},{"day":46.12,"mg":0.016},{"day":46.12,"mg":0.018},
{"day":46.45,"mg":0.001},{"day":46.45,"mg":0.003},{"day":46.45,"mg":0.005},{"day":46.45,"mg":0.007},{"day":46.45,"mg":0.009},{"day":46.45,"mg":0.011},{"day":46.45,"mg":0.013},
{"day":46.78,"mg":0.002},{"day":46.78,"mg":0.004},{"day":46.78,"mg":0.006},{"day":46.78,"mg":0.008},{"day":46.78,"mg":0.01},{"day":46.78,"mg":0.012},
{"day":47.12,"mg":0.003},{"day":47.12,"mg":0.005},{"day":47.12,"mg":0.007},{"day":47.12,"mg":0.009},{"day":47.12,"mg":0.011},
{"day":47.45,"mg":0.004},{"day":47.45,"mg":0.006},{"day":47.45,"mg":0.008},{"day":47.45,"mg":0.01},
{"day":47.78,"mg":0.003},{"day":47.78,"mg":0.005},{"day":47.78,"mg":0.007},{"day":47.78,"mg":0.009},{"day":47.78,"mg":0.011},
{"day":48.12,"mg":0.004},{"day":48.12,"mg":0.006},{"day":48.12,"mg":0.008},{"day":48.12,"mg":0.01},{"day":48.12,"mg":0.012},{"day":48.12,"mg":0.014},{"day":48.12,"mg":0.016},{"day":48.12,"mg":0.018},{"day":48.12,"mg":0.02},
{"day":48.45,"mg":0.003},{"day":48.45,"mg":0.005},{"day":48.45,"mg":0.007},{"day":48.45,"mg":0.009},{"day":48.45,"mg":0.011},{"day":48.45,"mg":0.013},{"day":48.45,"mg":0.015},{"day":48.45,"mg":0.017},{"day":48.45,"mg":0.019},{"day":48.45,"mg":0.021},
{"day":48.78,"mg":0.002},{"day":48.78,"mg":0.004},{"day":48.78,"mg":0.006},{"day":48.78,"mg":0.008},{"day":48.78,"mg":0.01},
{"day":49.12,"mg":0.001},{"day":49.12,"mg":0.003},{"day":49.12,"mg":0.005},{"day":49.12,"mg":0.007},{"day":49.12,"mg":0.009},{"day":49.12,"mg":0.011},
{"day":49.45,"mg":0.002},{"day":49.45,"mg":0.004},{"day":49.45,"mg":0.006},{"day":49.45,"mg":0.008},{"day":49.45,"mg":0.01},{"day":49.45,"mg":0.012},
{"day":49.78,"mg":0.001},{"day":49.78,"mg":0.003},{"day":49.78,"mg":0.005},{"day":49.78,"mg":0.007},{"day":49.78,"mg":0.009},{"day":49.78,"mg":0.011},
{"day":50.12,"mg":0.002},{"day":50.12,"mg":0.004},{"day":50.12,"mg":0.006},{"day":50.12,"mg":0.008},{"day":50.12,"mg":0.01},{"day":50.12,"mg":0.012},
{"day":50.45,"mg":0.001},{"day":50.45,"mg":0.003},{"day":50.45,"mg":0.005},{"day":50.45,"mg":0.007},{"day":50.45,"mg":0.009},{"day":50.45,"mg":0.011},{"day":50.45,"mg":0.013},
{"day":50.78,"mg":0.002},{"day":50.78,"mg":0.004},{"day":50.78,"mg":0.006},{"day":50.78,"mg":0.008},{"day":50.78,"mg":0.01},{"day":50.78,"mg":0.012},{"day":50.78,"mg":0.014},
{"day":51.12,"mg":0.001},{"day":51.12,"mg":0.003},{"day":51.12,"mg":0.005},{"day":51.12,"mg":0.007},{"day":51.12,"mg":0.009},
{"day":51.45,"mg":0.002},{"day":51.45,"mg":0.004},{"day":51.45,"mg":0.006},{"day":51.45,"mg":0.008},
{"day":51.78,"mg":0.001},{"day":51.78,"mg":0.003},{"day":51.78,"mg":0.005},{"day":51.78,"mg":0.007},{"day":51.78,"mg":0.009},{"day":51.78,"mg":0.011},{"day":51.78,"mg":0.013},{"day":51.78,"mg":0.015},
{"day":52.12,"mg":0.002},{"day":52.12,"mg":0.004},{"day":52.12,"mg":0.006},{"day":52.12,"mg":0.008},
{"day":52.45,"mg":0.001},{"day":52.45,"mg":0.003},{"day":52.45,"mg":0.005},{"day":52.45,"mg":0.007},{"day":52.45,"mg":0.009},{"day":52.45,"mg":0.011},{"day":52.45,"mg":0.013},{"day":52.45,"mg":0.015},
{"day":52.78,"mg":0.002},{"day":52.78,"mg":0.004},{"day":52.78,"mg":0.006},{"day":52.78,"mg":0.008},
{"day":53.12,"mg":0.001},{"day":53.12,"mg":0.003},{"day":53.12,"mg":0.005},{"day":53.12,"mg":0.007},{"day":53.12,"mg":0.009},{"day":53.12,"mg":0.011},{"day":53.12,"mg":0.013},{"day":53.12,"mg":0.015},{"day":53.12,"mg":0.017},
{"day":53.45,"mg":0.002},{"day":53.45,"mg":0.004},{"day":53.45,"mg":0.006},{"day":53.45,"mg":0.008},{"day":53.45,"mg":0.01},{"day":53.45,"mg":0.012},{"day":53.45,"mg":0.014},{"day":53.45,"mg":0.016},
{"day":53.78,"mg":0.001},{"day":53.78,"mg":0.003},{"day":53.78,"mg":0.005},{"day":53.78,"mg":0.007},{"day":53.78,"mg":0.009},{"day":53.78,"mg":0.011},{"day":53.78,"mg":0.013},{"day":53.78,"mg":0.015},{"day":53.78,"mg":0.017},
{"day":54.12,"mg":0.002},{"day":54.12,"mg":0.004},{"day":54.12,"mg":0.006},{"day":54.12,"mg":0.008},
{"day":54.45,"mg":0.0005},{"day":54.45,"mg":0.0025},{"day":54.45,"mg":0.0045},
{"day":54.78,"mg":0.0015},{"day":54.78,"mg":0.0035},{"day":54.78,"mg":0.0055},
{"day":55.12,"mg":0.0005},{"day":55.12,"mg":0.0025},{"day":55.12,"mg":0.0045},
{"day":55.45,"mg":0.0015},{"day":55.45,"mg":0.0035},{"day":55.45,"mg":0.0055},
{"day":55.78,"mg":0.0005},{"day":55.78,"mg":0.0025},{"day":55.78,"mg":0.0045},
{"day":56.12,"mg":0.0015},{"day":56.12,"mg":0.0035},{"day":56.12,"mg":0.0055},
{"day":56.45,"mg":0.0005},{"day":56.45,"mg":0.0025},{"day":56.45,"mg":0.0045},
{"day":56.78,"mg":0.0015},{"day":56.78,"mg":0.0035},{"day":56.78,"mg":0.0055},
{"day":57.12,"mg":0.0005},{"day":57.12,"mg":0.0025},{"day":57.12,"mg":0.0045},
{"day":57.45,"mg":0.004},{"day":57.45,"mg":0.006},{"day":57.45,"mg":0.008},{"day":57.45,"mg":0.01},{"day":57.45,"mg":0.012},{"day":57.45,"mg":0.014},
{"day":57.78,"mg":0.003},{"day":57.78,"mg":0.005},{"day":57.78,"mg":0.007},{"day":57.78,"mg":0.009},
{"day":58.12,"mg":0.004},{"day":58.12,"mg":0.006},{"day":58.12,"mg":0.008},{"day":58.12,"mg":0.01},
{"day":58.45,"mg":0.003},{"day":58.45,"mg":0.005},{"day":58.45,"mg":0.007},{"day":58.45,"mg":0.009},{"day":58.45,"mg":0.011},
{"day":58.78,"mg":0.004},{"day":58.78,"mg":0.006},{"day":58.78,"mg":0.008},{"day":58.78,"mg":0.01},
{"day":59.12,"mg":0.003},{"day":59.12,"mg":0.005},{"day":59.12,"mg":0.007},{"day":59.12,"mg":0.009},
{"day":59.45,"mg":0.0015},{"day":59.45,"mg":0.0035},{"day":59.45,"mg":0.0055},{"day":59.45,"mg":0.0075},{"day":59.45,"mg":0.0095},
{"day":59.78,"mg":0.0005},{"day":59.78,"mg":0.0025},
{"day":60.12,"mg":0.0015},
{"day":60.45,"mg":0.0005},{"day":60.45,"mg":0.0025},
{"day":60.78,"mg":0.0015},
{"day":61.12,"mg":0.0005},{"day":61.12,"mg":0.0025},
{"day":61.45,"mg":0.0015},{"day":61.45,"mg":0.003},
{"day":61.78,"mg":0.0005},{"day":61.78,"mg":0.0025},
{"day":62.12,"mg":0.0015},{"day":62.12,"mg":0.003},
{"day":62.45,"mg":0.0005},{"day":62.45,"mg":0.0025},
{"day":62.78,"mg":0.0015},{"day":62.78,"mg":0.003},
{"day":63.12,"mg":0.0005},{"day":63.12,"mg":0.0025},
{"day":63.45,"mg":0.0015},{"day":63.45,"mg":0.0035},{"day":63.45,"mg":0.0055},
{"day":63.78,"mg":0.0005},{"day":63.78,"mg":0.0025},{"day":63.78,"mg":0.0045},
{"day":64.12,"mg":0.0015},{"day":64.12,"mg":0.0035},{"day":64.12,"mg":0.0055},
{"day":64.45,"mg":0.0005},{"day":64.45,"mg":0.0025},{"day":64.45,"mg":0.0045},
{"day":64.78,"mg":0.0015},{"day":64.78,"mg":0.0035},{"day":64.78,"mg":0.0055},
{"day":65.12,"mg":0.0005},{"day":65.12,"mg":0.0025},{"day":65.12,"mg":0.0045},
{"day":65.45,"mg":0.0015},{"day":65.45,"mg":0.0035},{"day":65.45,"mg":0.0055},{"day":65.45,"mg":0.007},
{"day":65.78,"mg":0.0005},{"day":65.78,"mg":0.0025},{"day":65.78,"mg":0.0045},{"day":65.78,"mg":0.0065},
{"day":66.12,"mg":0.0015},{"day":66.12,"mg":0.0035},{"day":66.12,"mg":0.0055},{"day":66.12,"mg":0.007},
{"day":66.45,"mg":0.0005},{"day":66.45,"mg":0.0025},{"day":66.45,"mg":0.0045},{"day":66.45,"mg":0.0065},
{"day":66.78,"mg":0.001},{"day":66.78,"mg":0.003},
{"day":67.12,"mg":0.0005},{"day":67.12,"mg":0.0025},
{"day":67.45,"mg":0.001},{"day":67.45,"mg":0.003},
{"day":67.78,"mg":0.0005},{"day":67.78,"mg":0.0025},
{"day":68.12,"mg":0.001},{"day":68.12,"mg":0.003},
{"day":68.45,"mg":0.0005},{"day":68.45,"mg":0.0025},
{"day":68.78,"mg":0.001},{"day":68.78,"mg":0.003},
{"day":69.12,"mg":0.0005},{"day":69.12,"mg":0.0025},{"day":69.12,"mg":0.0045},{"day":69.12,"mg":0.0065},
{"day":69.45,"mg":0.0015},{"day":69.45,"mg":0.0035},{"day":69.45,"mg":0.0055},{"day":69.45,"mg":0.007},
{"day":69.78,"mg":0.0005},{"day":69.78,"mg":0.0025},{"day":69.78,"mg":0.0045},
{"day":70.12,"mg":0.0015},{"day":70.12,"mg":0.0035},{"day":70.12,"mg":0.005},
{"day":70.45,"mg":0.0005},{"day":70.45,"mg":0.0025},{"day":70.45,"mg":0.0045},
{"day":70.78,"mg":0.0015},{"day":70.78,"mg":0.0035},{"day":70.78,"mg":0.005},
{"day":71.12,"mg":0.0005},{"day":71.12,"mg":0.0025},{"day":71.12,"mg":0.0045},
{"day":71.45,"mg":0.0015},{"day":71.45,"mg":0.0035},{"day":71.45,"mg":0.005},
{"day":71.78,"mg":0.0005},{"day":71.78,"mg":0.0025},{"day":71.78,"mg":0.0045},
{"day":72.12,"mg":0.0015},{"day":72.12,"mg":0.0035},{"day":72.12,"mg":0.005},
{"day":72.45,"mg":0.0005},{"day":72.45,"mg":0.0025},{"day":72.45,"mg":0.0045},
{"day":72.78,"mg":0.0015},{"day":72.78,"mg":0.0035},{"day":72.78,"mg":0.005},
{"day":73.08,"mg":0.0005},{"day":73.08,"mg":0.0025},{"day":73.08,"mg":0.0045},
{"day":12.17,"mg":0.081},{"day":12.17,"mg":0.0478},{"day":12.17,"mg":0.04},{"day":12.17,"mg":0.0329},{"day":12.17,"mg":0.029},{"day":12.17,"mg":0.022},
{"day":10.36,"mg":0.0428},{"day":10.36,"mg":0.0379},{"day":10.02,"mg":0.0569},{"day":9.31,"mg":0.105},{"day":8.94,"mg":0.0829},{"day":10.22,"mg":0.025},{"day":9.88,"mg":0.0279},{"day":9.22,"mg":0.03},{"day":9.22,"mg":0.025},{"day":8.7,"mg":0.025},
{"day":10.85,"mg":0.012},{"day":10.85,"mg":0.014},{"day":10.85,"mg":0.016},{"day":10.85,"mg":0.018},{"day":10.85,"mg":0.02},
{"day":7.98,"mg":0.0619},{"day":7.98,"mg":0.0569},{"day":7.98,"mg":0.0538},{"day":7.98,"mg":0.0499},{"day":7.98,"mg":0.0428},{"day":7.98,"mg":0.0402},{"day":7.98,"mg":0.0393},{"day":7.98,"mg":0.0323},{"day":7.98,"mg":0.0302},{"day":7.98,"mg":0.0278},{"day":7.98,"mg":0.0259},{"day":7.98,"mg":0.024},{"day":7.98,"mg":0.0221},
{"day":7.36,"mg":0.049},{"day":7.36,"mg":0.0369},{"day":7.36,"mg":0.034},{"day":7.36,"mg":0.03},{"day":7.36,"mg":0.0288},{"day":7.36,"mg":0.0278},{"day":7.36,"mg":0.0269},{"day":7.36,"mg":0.024},{"day":7.36,"mg":0.0221},
{"day":6.25,"mg":0.0221},{"day":5.88,"mg":0.025},{"day":5.26,"mg":0.0221},{"day":4.88,"mg":0.0201},{"day":4.27,"mg":0.025},{"day":3.32,"mg":0.0221},
{"day":2.8,"mg":0.024},{"day":2.8,"mg":0.0759},{"day":2.7,"mg":0.0411},{"day":2.7,"mg":0.0619},{"day":3.11,"mg":0.0659},{"day":2.16,"mg":0.106},{"day":2.02,"mg":0.039},
{"day":2.13,"mg":0.0279},{"day":2.13,"mg":0.026},{"day":2.13,"mg":0.0231},
{"day":1.21,"mg":0.0279},{"day":1.21,"mg":0.0147},{"day":1.14,"mg":0.025},{"day":1.55,"mg":0.0169},{"day":0.45,"mg":0.0201},{"day":6.26,"mg":0.1543},
{"day":23.5,"mg":0.065},{"day":23.5,"mg":0.063},{"day":23.5,"mg":0.061},{"day":23.5,"mg":0.059},{"day":23.5,"mg":0.057},{"day":23.5,"mg":0.055},{"day":23.5,"mg":0.053},{"day":23.5,"mg":0.051},{"day":23.5,"mg":0.049},{"day":23.5,"mg":0.045},{"day":23.5,"mg":0.044},{"day":23.5,"mg":0.0393},{"day":23.5,"mg":0.0379},{"day":23.5,"mg":0.0364},{"day":23.5,"mg":0.034},{"day":23.5,"mg":0.03},{"day":23.5,"mg":0.0274},{"day":23.5,"mg":0.025},{"day":23.5,"mg":0.0221},{"day":23.5,"mg":0.0212},{"day":23.5,"mg":0.0169},{"day":23.5,"mg":0.016},
{"day":22.49,"mg":0.0383},{"day":22.49,"mg":0.0364},{"day":22.49,"mg":0.0345},{"day":22.49,"mg":0.0326},{"day":22.49,"mg":0.0307},{"day":22.49,"mg":0.0297},{"day":22.49,"mg":0.0278},{"day":22.49,"mg":0.025},{"day":22.49,"mg":0.0235},{"day":22.49,"mg":0.0221},{"day":22.49,"mg":0.0202},{"day":22.49,"mg":0.0183},{"day":22.49,"mg":0.0164},{"day":22.49,"mg":0.014},{"day":22.49,"mg":0.012},
{"day":21.5,"mg":0.0231},{"day":21.5,"mg":0.0202},{"day":21.43,"mg":0.016},{"day":21.2,"mg":0.0145},{"day":21.2,"mg":0.0116},
{"day":20.4,"mg":0.016},{"day":20.4,"mg":0.0135},{"day":20.4,"mg":0.0107},{"day":19.14,"mg":0.0169},{"day":19.39,"mg":0.0126},{"day":19.32,"mg":0.0088},
{"day":18.23,"mg":0.021},{"day":18.23,"mg":0.023},{"day":18.5,"mg":0.021},
{"day":17.89,"mg":0.084},{"day":17.89,"mg":0.079},{"day":17.89,"mg":0.075},{"day":17.89,"mg":0.073},{"day":17.89,"mg":0.071},{"day":17.89,"mg":0.069},{"day":17.89,"mg":0.067},{"day":17.89,"mg":0.065},{"day":17.89,"mg":0.063},{"day":17.89,"mg":0.061},{"day":17.89,"mg":0.059},{"day":17.89,"mg":0.057},{"day":17.89,"mg":0.055},{"day":17.89,"mg":0.053},{"day":17.89,"mg":0.051},{"day":17.89,"mg":0.049},{"day":17.89,"mg":0.047},{"day":17.89,"mg":0.045},{"day":17.89,"mg":0.043},{"day":17.89,"mg":0.041},{"day":17.89,"mg":0.039},{"day":17.89,"mg":0.037},{"day":17.89,"mg":0.035},{"day":17.89,"mg":0.033},{"day":17.89,"mg":0.031},{"day":17.89,"mg":0.029},{"day":17.89,"mg":0.027},{"day":17.89,"mg":0.025},{"day":17.89,"mg":0.023},{"day":17.89,"mg":0.021},{"day":17.89,"mg":0.019},{"day":17.89,"mg":0.017},
{"day":18.16,"mg":0.054},{"day":18.16,"mg":0.051},{"day":18.16,"mg":0.048},{"day":18.16,"mg":0.045},{"day":18.16,"mg":0.042},{"day":18.16,"mg":0.039},{"day":18.16,"mg":0.036},{"day":18.16,"mg":0.033},{"day":18.16,"mg":0.03},{"day":18.16,"mg":0.027},{"day":18.16,"mg":0.024},
{"day":17.69,"mg":0.052},{"day":17.69,"mg":0.049},{"day":17.69,"mg":0.046},{"day":17.69,"mg":0.043},{"day":17.69,"mg":0.04},{"day":17.69,"mg":0.037},{"day":17.69,"mg":0.034},{"day":17.69,"mg":0.031},
{"day":17.32,"mg":0.0988},
{"day":17.55,"mg":0.043},{"day":17.55,"mg":0.041},{"day":17.55,"mg":0.039},{"day":17.55,"mg":0.037},{"day":17.55,"mg":0.035},{"day":17.55,"mg":0.033},{"day":17.55,"mg":0.031},{"day":17.55,"mg":0.029},{"day":17.55,"mg":0.027},{"day":17.55,"mg":0.025},{"day":17.55,"mg":0.023},{"day":17.55,"mg":0.021},{"day":17.55,"mg":0.019},{"day":17.55,"mg":0.017},
{"day":17.18,"mg":0.0409},{"day":17.18,"mg":0.0321},{"day":17.28,"mg":0.0269},{"day":17.0,"mg":0.025},{"day":17.0,"mg":0.018},{"day":17.0,"mg":0.021},{"day":16.85,"mg":0.016},
{"day":16.46,"mg":0.0545},{"day":16.46,"mg":0.0525},{"day":16.46,"mg":0.0505},{"day":16.46,"mg":0.0485},{"day":16.46,"mg":0.0465},{"day":16.46,"mg":0.0445},{"day":16.46,"mg":0.0425},{"day":16.46,"mg":0.0405},{"day":16.46,"mg":0.0385},{"day":16.46,"mg":0.0365},{"day":16.46,"mg":0.0345},{"day":16.46,"mg":0.0325},{"day":16.46,"mg":0.0305},{"day":16.46,"mg":0.0285},{"day":16.46,"mg":0.0265},{"day":16.46,"mg":0.0245},{"day":16.46,"mg":0.0225},{"day":16.46,"mg":0.0205},{"day":16.46,"mg":0.0185},{"day":16.46,"mg":0.0165},{"day":16.46,"mg":0.0145},
{"day":15.37,"mg":0.0288},{"day":15.37,"mg":0.025},{"day":16.19,"mg":0.015},
{"day":14.87,"mg":0.1384},{"day":14.87,"mg":0.1365},{"day":14.87,"mg":0.1336},{"day":14.87,"mg":0.1307},{"day":14.87,"mg":0.129},{"day":14.87,"mg":0.127},{"day":14.87,"mg":0.125},{"day":14.87,"mg":0.123},{"day":14.87,"mg":0.121},{"day":14.87,"mg":0.119},{"day":14.87,"mg":0.117},{"day":14.87,"mg":0.115},{"day":14.87,"mg":0.1136},{"day":14.87,"mg":0.1126},{"day":14.87,"mg":0.107},{"day":14.87,"mg":0.096},{"day":14.87,"mg":0.0931},{"day":14.87,"mg":0.0831},{"day":14.87,"mg":0.081},{"day":14.87,"mg":0.076},{"day":14.87,"mg":0.0726},{"day":14.87,"mg":0.0678},{"day":14.87,"mg":0.0621},{"day":14.87,"mg":0.0593},{"day":14.87,"mg":0.0569},{"day":14.87,"mg":0.054},{"day":14.87,"mg":0.05},{"day":14.87,"mg":0.0474},{"day":14.87,"mg":0.0441},{"day":14.87,"mg":0.041},{"day":14.87,"mg":0.0369},{"day":14.87,"mg":0.0329},{"day":14.87,"mg":0.0297},{"day":14.87,"mg":0.0269},{"day":14.87,"mg":0.024},{"day":14.87,"mg":0.022},{"day":14.87,"mg":0.02},
{"day":14.12,"mg":0.0569},
{"day":14.01,"mg":0.0507},{"day":14.01,"mg":0.0487},{"day":14.01,"mg":0.0467},{"day":14.01,"mg":0.0447},{"day":14.01,"mg":0.0427},{"day":14.01,"mg":0.0407},{"day":14.01,"mg":0.0387},{"day":14.01,"mg":0.0367},{"day":14.01,"mg":0.0347},{"day":14.01,"mg":0.0327},{"day":14.01,"mg":0.0307},{"day":14.01,"mg":0.0287},{"day":14.01,"mg":0.0267},{"day":14.01,"mg":0.0247},{"day":14.01,"mg":0.0227},{"day":14.01,"mg":0.0207},{"day":14.01,"mg":0.019},
{"day":14.2,"mg":0.044},{"day":14.2,"mg":0.041},{"day":14.2,"mg":0.038},{"day":14.2,"mg":0.035},{"day":14.2,"mg":0.032},{"day":14.2,"mg":0.029},{"day":14.2,"mg":0.026},{"day":14.2,"mg":0.023},{"day":14.2,"mg":0.02},
{"day":13.82,"mg":0.04},{"day":13.82,"mg":0.037},{"day":13.82,"mg":0.034},{"day":13.82,"mg":0.031},{"day":13.82,"mg":0.028},{"day":13.82,"mg":0.025},{"day":13.82,"mg":0.022},{"day":13.82,"mg":0.019},
{"day":13.33,"mg":0.03},{"day":12.44,"mg":0.0221},
{"day":35.57,"mg":0.0229},{"day":35.43,"mg":0.0169},{"day":34.54,"mg":0.085},
{"day":34.71,"mg":0.082},{"day":34.71,"mg":0.054},{"day":34.71,"mg":0.0526},{"day":34.71,"mg":0.0512},{"day":34.71,"mg":0.0497},{"day":34.71,"mg":0.0483},{"day":34.71,"mg":0.0469},{"day":34.71,"mg":0.0441},{"day":34.71,"mg":0.0331},{"day":34.71,"mg":0.025},{"day":34.71,"mg":0.023},{"day":34.71,"mg":0.0212},{"day":34.71,"mg":0.0192},{"day":34.71,"mg":0.0169},
{"day":34.58,"mg":0.0321},{"day":34.3,"mg":0.036},{"day":34.3,"mg":0.024},{"day":34.3,"mg":0.0169},
{"day":33.53,"mg":0.041},{"day":33.53,"mg":0.0221},
{"day":32.53,"mg":0.036},{"day":32.53,"mg":0.0245},{"day":32.53,"mg":0.023},{"day":32.53,"mg":0.0221},{"day":32.53,"mg":0.015},{"day":32.53,"mg":0.0126},
{"day":31.55,"mg":0.0269},{"day":31.38,"mg":0.021},{"day":31.42,"mg":0.015},{"day":31.51,"mg":0.0097},
{"day":30.46,"mg":0.0548},{"day":30.46,"mg":0.0269},{"day":30.46,"mg":0.0226},{"day":30.33,"mg":0.0226},{"day":30.15,"mg":0.0226},
{"day":29.44,"mg":0.086},
{"day":28.56,"mg":0.049},{"day":28.56,"mg":0.046},{"day":28.56,"mg":0.035},{"day":28.56,"mg":0.0297},{"day":28.56,"mg":0.0278},{"day":28.56,"mg":0.026},{"day":28.56,"mg":0.024},{"day":28.56,"mg":0.022},{"day":28.56,"mg":0.02},{"day":28.56,"mg":0.018},{"day":28.29,"mg":0.0329},
{"day":27.56,"mg":0.1198},{"day":27.56,"mg":0.1174},{"day":27.56,"mg":0.116},{"day":27.56,"mg":0.1136},{"day":27.56,"mg":0.1117},{"day":27.56,"mg":0.1103},{"day":27.56,"mg":0.106},{"day":27.56,"mg":0.0972},{"day":27.56,"mg":0.094},{"day":27.56,"mg":0.0898},{"day":27.56,"mg":0.088},{"day":27.56,"mg":0.086},{"day":27.56,"mg":0.084},{"day":27.56,"mg":0.082},{"day":27.56,"mg":0.0807},{"day":27.56,"mg":0.079},{"day":27.56,"mg":0.077},{"day":27.56,"mg":0.075},{"day":27.56,"mg":0.073},{"day":27.56,"mg":0.071},{"day":27.56,"mg":0.069},{"day":27.56,"mg":0.067},{"day":27.56,"mg":0.065},{"day":27.56,"mg":0.063},{"day":27.56,"mg":0.061},{"day":27.56,"mg":0.059},{"day":27.56,"mg":0.057},{"day":27.56,"mg":0.055},{"day":27.56,"mg":0.053},{"day":27.56,"mg":0.051},{"day":27.56,"mg":0.049},{"day":27.56,"mg":0.047},{"day":27.56,"mg":0.045},{"day":27.56,"mg":0.043},{"day":27.56,"mg":0.041},{"day":27.56,"mg":0.039},{"day":27.56,"mg":0.037},{"day":27.56,"mg":0.035},{"day":27.56,"mg":0.0335},{"day":27.56,"mg":0.0288},{"day":27.56,"mg":0.0259},{"day":27.56,"mg":0.024},
{"day":27.78,"mg":0.07},{"day":27.78,"mg":0.0675},{"day":27.78,"mg":0.065},{"day":27.78,"mg":0.0625},{"day":27.78,"mg":0.06},{"day":27.78,"mg":0.0575},{"day":27.78,"mg":0.055},{"day":27.78,"mg":0.0525},{"day":27.78,"mg":0.05},{"day":27.78,"mg":0.0475},{"day":27.78,"mg":0.045},{"day":27.78,"mg":0.0425},{"day":27.78,"mg":0.04},{"day":27.78,"mg":0.0375},
{"day":26.6,"mg":0.2161},{"day":26.6,"mg":0.2121},{"day":26.6,"mg":0.2013},{"day":26.6,"mg":0.198},{"day":26.6,"mg":0.1899},{"day":26.6,"mg":0.18},{"day":26.6,"mg":0.1641},{"day":26.6,"mg":0.1498},{"day":26.6,"mg":0.139},{"day":26.6,"mg":0.1298},{"day":26.6,"mg":0.1293},{"day":26.6,"mg":0.122},{"day":26.6,"mg":0.117},{"day":26.6,"mg":0.1141},{"day":26.6,"mg":0.1117},{"day":26.6,"mg":0.1098},{"day":26.6,"mg":0.1079},{"day":26.6,"mg":0.106},{"day":26.6,"mg":0.1041},{"day":26.6,"mg":0.1},{"day":26.6,"mg":0.095},{"day":26.6,"mg":0.0912},{"day":26.6,"mg":0.0889},{"day":26.6,"mg":0.084},{"day":26.6,"mg":0.0812},{"day":26.6,"mg":0.0784},{"day":26.6,"mg":0.0755},{"day":26.6,"mg":0.0727},{"day":26.6,"mg":0.0698},{"day":26.6,"mg":0.067},{"day":26.6,"mg":0.064},{"day":26.6,"mg":0.06},{"day":26.6,"mg":0.058},{"day":26.6,"mg":0.056},{"day":26.6,"mg":0.054},{"day":26.6,"mg":0.052},{"day":26.6,"mg":0.05},{"day":26.6,"mg":0.049},{"day":26.6,"mg":0.046},{"day":26.6,"mg":0.043},{"day":26.6,"mg":0.04},{"day":26.6,"mg":0.037},{"day":26.6,"mg":0.0326},
{"day":25.62,"mg":0.054},{"day":25.62,"mg":0.052},{"day":25.62,"mg":0.05},{"day":25.62,"mg":0.048},{"day":25.62,"mg":0.046},{"day":25.62,"mg":0.044},{"day":25.62,"mg":0.042},{"day":25.62,"mg":0.04},{"day":25.62,"mg":0.038},{"day":25.62,"mg":0.036},{"day":25.62,"mg":0.034},{"day":25.62,"mg":0.032},{"day":25.62,"mg":0.03},{"day":25.62,"mg":0.028},{"day":25.62,"mg":0.026},{"day":25.62,"mg":0.024},{"day":25.62,"mg":0.022},{"day":25.62,"mg":0.02},{"day":25.62,"mg":0.018},
{"day":25.21,"mg":0.023},{"day":25.21,"mg":0.0169},
{"day":24.63,"mg":0.0602},{"day":24.63,"mg":0.058},{"day":24.63,"mg":0.0555},{"day":24.63,"mg":0.053},{"day":24.63,"mg":0.0497},{"day":24.63,"mg":0.047},{"day":24.63,"mg":0.044},{"day":24.63,"mg":0.041},{"day":24.63,"mg":0.038},{"day":24.63,"mg":0.035},{"day":24.63,"mg":0.032},{"day":24.63,"mg":0.029},{"day":24.63,"mg":0.026},{"day":24.63,"mg":0.023},{"day":24.63,"mg":0.02},{"day":24.63,"mg":0.017},
{"day":48.68,"mg":0.0178},{"day":47.68,"mg":0.024},{"day":47.68,"mg":0.0178},{"day":47.52,"mg":0.013},{"day":46.56,"mg":0.0659},{"day":46.66,"mg":0.0201},{"day":46.84,"mg":0.015},{"day":45.27,"mg":0.0212},{"day":45.27,"mg":0.0178},{"day":45.14,"mg":0.015},{"day":44.18,"mg":0.0102},{"day":43.84,"mg":0.0112},
{"day":42.55,"mg":0.054},{"day":42.61,"mg":0.041},{"day":42.57,"mg":0.03},{"day":42.41,"mg":0.025},{"day":42.48,"mg":0.0164},{"day":42.34,"mg":0.0145},{"day":42.21,"mg":0.0154},{"day":41.66,"mg":0.034},{"day":40.57,"mg":0.0121},
{"day":37.85,"mg":0.03},{"day":37.82,"mg":0.025},{"day":37.6,"mg":0.0178},{"day":37.17,"mg":0.019},{"day":37.84,"mg":0.0155},{"day":37.84,"mg":0.013},{"day":37.98,"mg":0.014},
{"day":59.37,"mg":0.019},{"day":59.37,"mg":0.015},{"day":58.72,"mg":0.0178},{"day":58.72,"mg":0.0169},{"day":58.92,"mg":0.014},{"day":58.25,"mg":0.0259},{"day":57.76,"mg":0.044},{"day":57.76,"mg":0.03},{"day":57.44,"mg":0.045},{"day":57.44,"mg":0.0221},{"day":57.8,"mg":0.015},{"day":56.71,"mg":0.03},{"day":56.3,"mg":0.016},{"day":56.67,"mg":0.013},{"day":56.65,"mg":0.0099},{"day":55.65,"mg":0.0331},
{"day":54.4,"mg":0.014},{"day":54.74,"mg":0.0112},{"day":55.6,"mg":0.0116},{"day":55.42,"mg":0.0088},{"day":54.94,"mg":0.0088},
{"day":53.49,"mg":0.042},{"day":53.28,"mg":0.0259},{"day":52.7,"mg":0.0238},{"day":52.59,"mg":0.019},{"day":52.22,"mg":0.0518},{"day":51.77,"mg":0.0518},{"day":51.74,"mg":0.0671},{"day":51.74,"mg":0.0431},{"day":51.74,"mg":0.0402},{"day":51.74,"mg":0.034},{"day":51.74,"mg":0.0269},{"day":51.27,"mg":0.034},{"day":52.26,"mg":0.0379},
{"day":50.68,"mg":0.0589},{"day":50.68,"mg":0.025},{"day":50.52,"mg":0.0221},{"day":50.38,"mg":0.0221},{"day":50.24,"mg":0.019},{"day":49.83,"mg":0.016},{"day":49.63,"mg":0.0212},
{"day":49.29,"mg":0.0278},{"day":49.29,"mg":0.026},{"day":49.29,"mg":0.024},{"day":49.29,"mg":0.022},{"day":49.29,"mg":0.02},{"day":49.29,"mg":0.018},{"day":49.29,"mg":0.016},{"day":49.29,"mg":0.014},
{"day":72.52,"mg":0.0102},{"day":72.52,"mg":0.0085},{"day":72.52,"mg":0.0068},{"day":70.6,"mg":0.0083},{"day":70.6,"mg":0.0064},{"day":71.3,"mg":0.0073},{"day":69.33,"mg":0.0069},
{"day":65.37,"mg":0.014},{"day":65.37,"mg":0.0126},{"day":65.37,"mg":0.0107},{"day":65.37,"mg":0.0088},{"day":65.28,"mg":0.023},{"day":65.28,"mg":0.0221},
{"day":63.6,"mg":0.008},{"day":63.6,"mg":0.0069},{"day":61.63,"mg":0.0059}
]
},
"layer":[
{"data":{"name":"readings"},
 "mark":{"type":"point","shape":"M-1,-1L1,1M-1,1L1,-1","filled":false,"strokeWidth":3.4,"size":90,"opacity":1},
 "encoding":{
  "x":{"field":"mg","type":"quantitative","scale":{"domain":[0,0.3],"reverse":true,"nice":false,"zero":true},
   "axis":{"values":[0,0.05,0.1,0.15,0.2,0.25,0.3],"format":"~g","grid":true,"gridColor":"#c0c0c0","gridWidth":1,"domainColor":"#000000","domainWidth":1.5,"tickColor":"#000000","tickSize":8,"tickWidth":1.5,"labelAngle":270,"labelAlign":"right","labelBaseline":"middle","labelFontSize":29,"labelColor":"#000000","labelPadding":21,"labelFlush":false,"labelOverlap":false,"title":"mg/m3","titleFontSize":28,"titleFontWeight":"bold","titleColor":"#000000","titleAngle":180,"titleX":525,"titleY":104,"titleAlign":"center","titleBaseline":"middle"}},
  "y":{"field":"day","type":"quantitative","scale":{"domain":[0.4167,73.13],"nice":false,"zero":false},
   "axis":{"orient":"right","values":[0.4167,2.1,3.7833,5.4667,7.15,8.8333,10.5167,12.2,13.8833,15.5667,17.25,18.9333,20.6167,22.3,23.9833,25.6667,27.35,29.0333,30.7167,32.4,34.0833,35.7667,37.45,39.1333,40.8167,42.5,44.1833,45.8667,47.55,49.2333,50.9167,52.6,54.2833,55.9667,57.65,59.3333,61.0167,62.7,64.3833,66.0667,67.75,69.4333,71.1167,72.8],
    "labelExpr":"abs((datum.value - 0.4167) / 5.05 - round((datum.value - 0.4167) / 5.05)) < 0.05 ? timeFormat(datetime(2008, 0, 1 + floor(datum.value)), '%-d/%m/%Y') : ''",
    "grid":false,"domainColor":"#000000","domainWidth":1.5,"tickColor":"#000000","tickSize":7,"tickWidth":1.5,"labelAngle":180,"labelAlign":"right","labelBaseline":"middle","labelFontSize":22,"labelColor":"#000000","labelPadding":11,"labelFlush":false,"labelOverlap":false,"title":null}},
  "color":{"datum":"Site 5 (5 min. Readings)","type":"nominal",
   "scale":{"domain":["Target (24 hours)","Site 5 (5 min. Readings)","24H Average"],"range":["#FF9900","#3366FF","#969696"]},
   "legend":{"orient":"none","legendX":35,"legendY":27,"direction":"horizontal","columns":3,"title":null,"labelFontSize":25.5,"labelColor":"#000000","labelLimit":600,"columnPadding":13.5,"padding":7.5,"strokeColor":"#000000","fillColor":"#ffffff",
    "labelExpr":"datum.label == 'Target (24 hours)' ? datum.label + '\u00a0\u00a0\u00a0\u00a0\u00a0\u00a0\u00a0\u00a0\u00a0\u00a0\u00a0\u00a0\u00a0' : datum.label == '24H Average' ? datum.label + '\u00a0\u00a0\u00a0\u00a0\u00a0\u00a0\u00a0\u00a0\u00a0\u00a0\u00a0\u00a0\u00a0\u00a0\u00a0\u00a0\u00a0\u00a0\u00a0\u00a0' : datum.label + '\u00a0\u00a0'",
    "encode":{
     "symbols":{"update":{
      "shape":{"signal":"datum.value == 'Target (24 hours)' ? 'M0,-1L0,1' : datum.value == '24H Average' ? 'circle' : 'M-1,-1L1,1M-1,1L1,-1'"},
      "size":{"signal":"datum.value == 'Target (24 hours)' ? 2401 : datum.value == '24H Average' ? 254 : 81"},
      "strokeWidth":{"signal":"datum.value == 'Target (24 hours)' ? 2 : datum.value == '24H Average' ? 0 : 3"},
      "opacity":{"value":1},
      "x":{"value":13},"y":{"value":314}}},
     "labels":{"update":{"angle":{"value":270},"align":{"value":"left"},"baseline":{"value":"middle"},"x":{"value":13},"y":{"value":284}}}
    }}}
 }},
{"data":{"values":[{"target":0.05}]},
 "mark":{"type":"rule","strokeWidth":2},
 "encoding":{"x":{"field":"target","type":"quantitative"},"color":{"datum":"Target (24 hours)","type":"nominal",
   "legend":{"orient":"none","legendX":35,"legendY":27,"direction":"horizontal","columns":3,"title":null,"labelFontSize":25.5,"labelColor":"#000000","labelLimit":600,"columnPadding":13.5,"padding":7.5,"strokeColor":"#000000","fillColor":"#ffffff",
    "labelExpr":"datum.label == 'Target (24 hours)' ? datum.label + '\u00a0\u00a0\u00a0\u00a0\u00a0\u00a0\u00a0\u00a0\u00a0\u00a0\u00a0\u00a0\u00a0' : datum.label == '24H Average' ? datum.label + '\u00a0\u00a0\u00a0\u00a0\u00a0\u00a0\u00a0\u00a0\u00a0\u00a0\u00a0\u00a0\u00a0\u00a0\u00a0\u00a0\u00a0\u00a0\u00a0\u00a0' : datum.label + '\u00a0\u00a0'",
    "encode":{
     "symbols":{"update":{
      "shape":{"signal":"datum.value == 'Target (24 hours)' ? 'M0,-1L0,1' : datum.value == '24H Average' ? 'circle' : 'M-1,-1L1,1M-1,1L1,-1'"},
      "size":{"signal":"datum.value == 'Target (24 hours)' ? 2401 : datum.value == '24H Average' ? 254 : 81"},
      "strokeWidth":{"signal":"datum.value == 'Target (24 hours)' ? 2 : datum.value == '24H Average' ? 0 : 3"},
      "opacity":{"value":1},
      "x":{"value":13},"y":{"value":314}}},
     "labels":{"update":{"angle":{"value":270},"align":{"value":"left"},"baseline":{"value":"middle"},"x":{"value":13},"y":{"value":284}}}
    }}}}},
{"data":{"name":"daily"},
 "mark":{"type":"circle","size":254,"opacity":1},
 "encoding":{"x":{"field":"mg","type":"quantitative"},"y":{"field":"day","type":"quantitative"},"color":{"datum":"24H Average","type":"nominal",
   "legend":{"orient":"none","legendX":35,"legendY":27,"direction":"horizontal","columns":3,"title":null,"labelFontSize":25.5,"labelColor":"#000000","labelLimit":600,"columnPadding":13.5,"padding":7.5,"strokeColor":"#000000","fillColor":"#ffffff",
    "labelExpr":"datum.label == 'Target (24 hours)' ? datum.label + '\u00a0\u00a0\u00a0\u00a0\u00a0\u00a0\u00a0\u00a0\u00a0\u00a0\u00a0\u00a0\u00a0' : datum.label == '24H Average' ? datum.label + '\u00a0\u00a0\u00a0\u00a0\u00a0\u00a0\u00a0\u00a0\u00a0\u00a0\u00a0\u00a0\u00a0\u00a0\u00a0\u00a0\u00a0\u00a0\u00a0\u00a0' : datum.label + '\u00a0\u00a0'",
    "encode":{
     "symbols":{"update":{
      "shape":{"signal":"datum.value == 'Target (24 hours)' ? 'M0,-1L0,1' : datum.value == '24H Average' ? 'circle' : 'M-1,-1L1,1M-1,1L1,-1'"},
      "size":{"signal":"datum.value == 'Target (24 hours)' ? 2401 : datum.value == '24H Average' ? 254 : 81"},
      "strokeWidth":{"signal":"datum.value == 'Target (24 hours)' ? 2 : datum.value == '24H Average' ? 0 : 3"},
      "opacity":{"value":1},
      "x":{"value":13},"y":{"value":314}}},
     "labels":{"update":{"angle":{"value":270},"align":{"value":"left"},"baseline":{"value":"middle"},"x":{"value":13},"y":{"value":284}}}
    }}}}}
]
}
